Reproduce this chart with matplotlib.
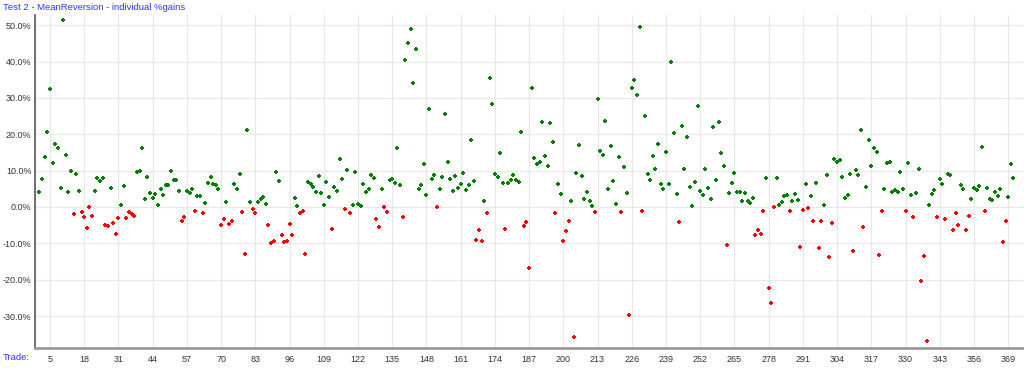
import matplotlib.pyplot as plt
import numpy as np

plt.rcParams['font.family'] = ['Liberation Sans', 'DejaVu Sans']

# individual % gains per trade
gains = [
    4.0, 7.6, 13.8, 20.6, 32.5, 12.0, 17.4, 16.2, 5.1, 51.3,
    14.3, 4.0, 10.0, -2.0, 9.1, 4.5, -1.4, -2.9, -5.8, -0.1,
    -2.5, 4.3, 7.9, 7.2, 8.1, -5.0, -5.3, 5.3, -4.4, -7.5,
    -3.0, 0.4, 5.8, -3.0, -1.5, -1.9, -2.5, 9.7, 10.0, 16.1,
    2.2, 8.3, 3.7, 2.5, 3.5, 0.6, 5.0, 3.4, 6.1, 6.1,
    10.0, 7.3, 7.5, 4.3, -3.8, -2.8, 4.3, 3.9, 4.8, -1.0,
    3.0, 3.1, -1.7, 1.0, 6.6, 8.3, 6.4, 5.9, 4.8, -5.0,
    -3.2, 1.4, -4.6, -3.9, 6.4, 5.0, 9.1, -1.3, -12.9, 21.2,
    1.3, -0.5, -1.8, 1.4, 2.3, 2.7, 0.7, -5.0, -9.9, -9.3,
    9.7, 7.2, -7.6, -9.6, -9.4, -4.8, -7.7, 2.4, 0.2, -1.7,
    -1.2, -13.0, 6.8, 6.3, 5.5, 4.1, 8.5, 3.7, 0.6, 6.8,
    2.8, -6.2, 5.6, 4.4, 13.1, 7.6, -0.6, 10.3, -1.7, 0.6,
    9.6, 0.7, 0.2, 6.3, 4.2, 5.0, 8.8, 8.0, -3.3, -5.6,
    4.8, -0.1, -1.3, 7.3, 7.7, 6.6, 16.1, 5.9, -2.8, 40.4,
    45.0, 48.9, 34.0, 43.4, 5.0, 6.1, 11.7, 3.4, 27.0, 7.8,
    8.7, -0.1, 5.0, 8.2, 25.5, 12.5, 7.8, 4.3, 8.5, 5.2,
    6.3, 9.4, 4.7, 5.9, 18.3, 7.2, -9.0, -6.3, -9.5, 1.5,
    -1.7, 35.6, 28.4, 9.1, 8.3, 14.8, 6.6, -6.0, 6.6, 7.3,
    8.7, 7.3, 6.8, 20.7, -5.3, -4.1, -16.9, 32.8, 13.6, 11.7,
    12.5, 23.5, 14.0, 11.4, 23.2, 17.8, -1.7, 6.3, 3.6, -9.5,
    -6.6, -4.0, 1.7, -35.9, 9.4, 17.1, 8.5, 2.3, 4.1, 1.7,
    0.2, -1.3, 29.7, 15.5, 14.2, 23.7, 4.8, 16.7, 7.1, 0.7,
    13.7, -1.5, 10.9, 3.7, -29.6, 32.6, 34.8, 30.8, 49.4, -1.0,
    25.0, 9.2, 7.5, 13.9, 10.4, 17.2, 6.3, 5.0, 15.2, 6.4,
    39.8, 20.4, 3.5, -4.1, 22.4, 10.4, 19.2, 5.6, 0.2, 6.8,
    27.9, 4.3, 3.2, 10.4, 5.2, 2.3, 21.9, 7.3, 23.5, 14.8,
    11.4, -10.6, 3.9, 6.6, 9.4, 4.2, 4.2, 1.7, 3.9, 1.5,
    1.0, 2.5, -7.6, -6.4, -7.4, -1.0, 7.9, -22.3, -26.4, -0.1,
    7.9, 0.6, 1.3, 3.0, 3.4, -1.0, 1.7, 3.5, 2.0, -11.0,
    -0.9, 6.3, -0.4, 2.9, -3.9, 6.5, -11.2, -3.8, 0.5, 8.9,
    -13.9, -4.4, 13.3, 12.5, 12.9, 8.3, 2.5, 3.3, 9.2, -12.2,
    10.1, 8.9, 21.2, -5.4, 5.6, 18.3, 11.4, 16.1, 15.0, -13.2,
    -1.0, 4.9, 12.0, 12.5, 4.1, 4.7, 4.1, 9.7, 4.9, -1.2,
    12.0, 3.4, -2.7, 3.8, 10.4, -20.4, -13.4, -36.8, 0.6, 3.5,
    4.7, -2.7, 7.6, 6.3, -3.4, 9.1, 8.7, -6.4, -1.6, -5.0,
    5.9, 4.9, -6.3, -2.5, 2.3, 5.2, 4.7, 5.8, 16.4, -1.2,
    5.3, 2.3, 1.9, 4.0, 3.1, 4.8, -9.6, -3.8, 2.8, 11.7,
    7.9,
]
trades = np.arange(1, len(gains) + 1)
x_ticks = list(range(5, 370, 13))
y_ticks = list(range(-30, 51, 10))

gains = np.array(gains)
pos = gains >= 0

fig = plt.figure(figsize=(10.24, 3.69), dpi=100)
ax = fig.add_axes([35 / 1024, 21 / 369, 989 / 1024, 333 / 369])

ax.scatter(trades[pos], gains[pos], marker='P', s=9, color='#008000',
           linewidths=0, zorder=3)
ax.scatter(trades[~pos], gains[~pos], marker='P', s=9, color='#ff0000',
           linewidths=0, zorder=3)

ax.set_xlim(-0.7, 375)
ax.set_ylim(-38.8, 52.8)
ax.set_xticks(x_ticks)
ax.set_yticks(y_ticks)
ax.set_yticklabels([f"{v:.1f}%" for v in y_ticks])
ax.grid(True, color='#e8e8e8', linewidth=0.9)
ax.set_axisbelow(True)

for side in ['top', 'right']:
    ax.spines[side].set_visible(False)
ax.spines['left'].set_color('#555555')
ax.spines['left'].set_linewidth(1.2)
ax.spines['bottom'].set_color('#9a9a9a')
ax.spines['bottom'].set_linewidth(2)

ax.tick_params(axis='both', length=0, labelsize=6.5, labelcolor='#333333')
ax.tick_params(axis='x', pad=5)
ax.tick_params(axis='y', pad=2.5)

fig.text(3 / 1024, 1 - 7 / 369, "Test 2 - MeanReversion - individual %gains",
         color='#3333ff', fontsize=6.8, va='center', ha='left')
fig.text(3 / 1024, 1 - 357 / 369, "Trade:", color='#3333ff', fontsize=6.8,
         va='center', ha='left')

fig.savefig('out.png', dpi=100)
